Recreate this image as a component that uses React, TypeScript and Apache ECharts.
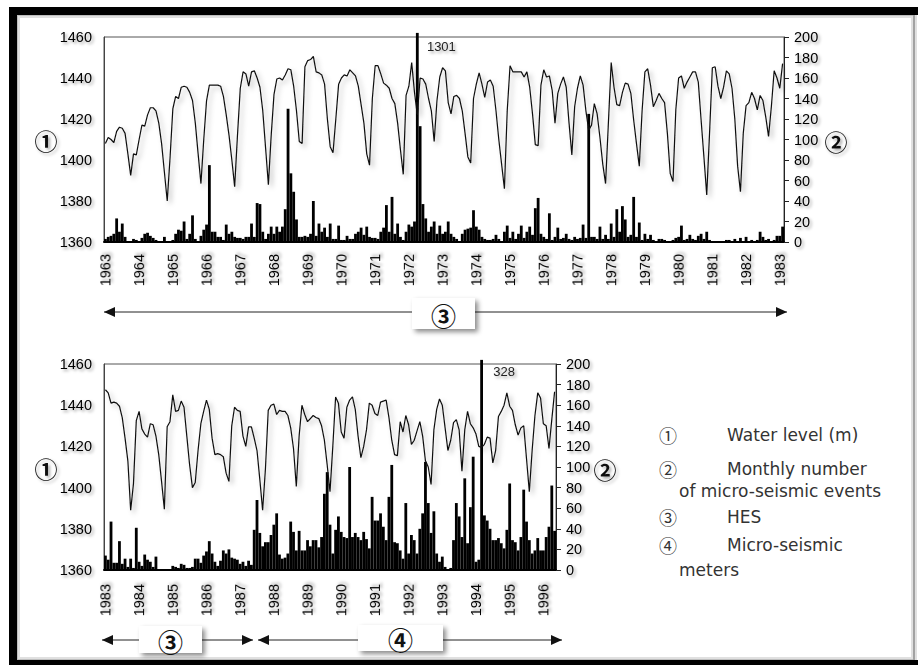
import React, { useEffect, useRef } from "react";
import * as echarts from "echarts";

// ---------- DATA ----------
// Upper panel: monthly values, Jan 1963 .. Feb 1983
const topLevel = [
  1408, 1411, 1410, 1408.5, 1414, 1416, 1415.5, 1413, 1403, 1392.5, 1403, 1402.5,
  1410, 1417, 1416.5, 1422, 1425.5, 1425.5, 1424, 1418, 1408, 1394, 1380, 1401,
  1425, 1431, 1430, 1435.5, 1436, 1435.5, 1433, 1429, 1418, 1403, 1388.5, 1410,
  1429, 1436.5, 1436.5, 1436.5, 1436.5, 1436, 1431, 1422, 1412, 1400, 1387, 1412,
  1435, 1443, 1442, 1436, 1443, 1443.5, 1440, 1435.5, 1424, 1406, 1388, 1412,
  1432, 1439.5, 1440, 1439, 1441.5, 1444.5, 1444, 1436, 1424, 1409, 1408, 1445.5,
  1448.5, 1449, 1450.5, 1443, 1442.5, 1441.5, 1437, 1420, 1406.5, 1403.5, 1420, 1437,
  1440, 1441.5, 1441, 1444, 1442.5, 1441, 1436, 1427, 1418, 1403, 1397.5, 1430,
  1446, 1446, 1442, 1437.5, 1436.5, 1435, 1430, 1427.5, 1418, 1405, 1393, 1431.5,
  1436, 1447.5, 1433, 1422, 1440, 1439.5, 1437, 1430, 1424, 1409, 1429, 1440.5,
  1445, 1443.5, 1428, 1422.5, 1431, 1431.5, 1430, 1424, 1413, 1401.5, 1398.5, 1430,
  1437, 1442.5, 1437, 1430.5, 1438, 1439, 1436, 1424, 1410, 1398, 1386, 1424,
  1446, 1443, 1443, 1443, 1443, 1440.5, 1443, 1435.5, 1422.5, 1407.5, 1407, 1436.5,
  1444, 1440.5, 1441, 1434, 1418, 1432.5, 1437, 1440.5, 1435.5, 1418, 1402.5, 1426,
  1435, 1441, 1436.5, 1424, 1414.5, 1417, 1427.5, 1422.5, 1411, 1398, 1388.5, 1418,
  1447.5, 1435.5, 1427, 1426.5, 1433, 1437.5, 1437, 1432.5, 1419.5, 1408, 1397, 1424,
  1443, 1444.5, 1436.5, 1426, 1429, 1432.5, 1430, 1428, 1413, 1393.5, 1389.5, 1424.5,
  1440, 1441, 1435, 1438, 1440.5, 1443, 1443, 1438, 1419.5, 1401.5, 1383, 1413,
  1445, 1445.5, 1436, 1430, 1435.5, 1443.5, 1442, 1435, 1420, 1397, 1384.5, 1413,
  1426.5, 1428, 1433, 1430, 1424.5, 1431.5, 1429, 1421, 1411.5, 1426, 1443.5, 1440,
  1435, 1447,
];
const topEvents = [
  3, 5, 6, 8, 23, 10, 18, 5, 1, 0, 3, 2,
  1, 4, 8, 9, 6, 4, 2, 1, 0, 5, 0, 1,
  2, 8, 12, 11, 20, 3, 8, 26, 3, 0, 6, 12,
  17, 75, 10, 10, 5, 5, 2, 17, 8, 10, 5, 4,
  4, 3, 5, 5, 18, 5, 38, 37, 10, 3, 8, 15,
  8, 15, 10, 15, 32, 130, 67, 49, 22, 5, 5, 6,
  5, 8, 40, 6, 18, 10, 14, 5, 18, 3, 3, 16,
  2, 2, 6, 3, 3, 8, 10, 14, 7, 15, 5, 4,
  4, 3, 10, 14, 36, 10, 44, 8, 18, 5, 2, 10,
  17, 15, 20, 1301, 113, 37, 23, 10, 15, 20, 8, 16,
  8, 10, 20, 8, 5, 3, 1, 8, 12, 13, 14, 31,
  15, 12, 5, 3, 2, 2, 3, 7, 3, 0, 10, 16,
  4, 10, 3, 8, 16, 4, 10, 15, 7, 33, 43, 8,
  5, 3, 28, 2, 5, 14, 3, 4, 8, 3, 2, 5,
  3, 4, 17, 4, 125, 5, 5, 3, 15, 3, 7, 3,
  18, 5, 32, 10, 35, 22, 5, 7, 44, 5, 19, 2,
  8, 3, 7, 2, 1, 3, 3, 2, 0, 1, 2, 4,
  5, 16, 2, 3, 7, 3, 2, 6, 8, 3, 10, 2,
  1, 1, 0, 1, 0, 2, 2, 1, 3, 0, 4, 1,
  5, 1, 2, 1, 2, 10, 5, 2, 3, 1, 2, 6,
  6, 15,
];
// Lower panel: monthly values, Jan 1983 .. May 1996
const bottomLevel = [
  1447.5, 1446, 1441, 1441.5, 1441, 1439.5, 1434, 1424, 1413, 1389, 1402, 1432.5,
  1437, 1428.5, 1426, 1424.5, 1431, 1430.5, 1425, 1416, 1403, 1389.5, 1429.5, 1432,
  1445, 1437, 1437.5, 1442, 1439, 1425, 1411, 1400, 1402.5, 1418, 1431, 1437,
  1442.5, 1438, 1424, 1416, 1416.5, 1416, 1415, 1407, 1403, 1430, 1439, 1437.5,
  1437, 1425, 1420, 1429.5, 1429.5, 1424, 1418, 1404, 1389, 1409, 1437.5, 1440,
  1440.5, 1435.5, 1437.5, 1437, 1437, 1435, 1429, 1419, 1400.5, 1425, 1440, 1435.5,
  1432, 1433.5, 1435, 1434, 1433.5, 1430, 1423, 1411, 1398, 1420, 1444, 1441,
  1427, 1424, 1439, 1442.5, 1444, 1438, 1425, 1414.5, 1420, 1428, 1441, 1440,
  1436, 1435, 1441.5, 1442, 1442.5, 1434, 1423, 1416, 1415.5, 1432, 1427, 1435,
  1430.5, 1421, 1423, 1427.5, 1432, 1425, 1413, 1410, 1401.5, 1428, 1438, 1443,
  1440, 1429, 1418, 1423, 1431.5, 1433, 1428, 1408, 1428, 1437, 1431, 1429,
  1426, 1420, 1419.5, 1421, 1424.5, 1424, 1412, 1418, 1434.5, 1437, 1440, 1446,
  1439.5, 1437.5, 1430.5, 1425.5, 1429, 1430, 1414, 1398, 1418, 1435, 1446, 1443.5,
  1431, 1430, 1419, 1433, 1446.5,
];
const bottomEvents = [
  14, 10, 47, 7, 7, 28, 6, 11, 3, 11, 2, 41,
  8, 4, 15, 10, 8, 3, 13, 0, 0, 0, 0, 0,
  4, 3, 2, 6, 5, 2, 2, 3, 11, 11, 7, 14,
  18, 28, 16, 8, 4, 9, 19, 16, 20, 12, 11, 10,
  6, 8, 4, 9, 5, 39, 68, 36, 23, 27, 27, 34,
  44, 55, 15, 11, 12, 16, 47, 37, 19, 38, 19, 19,
  29, 23, 29, 29, 22, 32, 74, 95, 44, 16, 39, 52,
  37, 32, 31, 100, 32, 36, 32, 29, 37, 30, 21, 71,
  48, 48, 55, 42, 29, 71, 102, 27, 26, 19, 11, 65,
  16, 34, 29, 16, 40, 55, 105, 65, 36, 57, 16, 8,
  13, 3, 1, 2, 29, 65, 52, 32, 89, 26, 61, 110,
  8, 10, 328, 53, 48, 40, 29, 29, 31, 26, 21, 39,
  84, 29, 27, 19, 32, 78, 47, 29, 16, 19, 31, 19,
  19, 32, 42, 82, 38,
];
const topStartYear = 1963;
const bottomStartYear = 1983;
const levelRange = [1360, 1460, 20];
const eventsRange = [0, 200, 20];
const legendItems = [
  ["①", "Water level (m)"],
  ["②", "Monthly number", "of micro-seismic events"],
  ["③", "HES"],
  ["④", "Micro-seismic", "meters"],
];

const monthCats = (start: number, n: number) =>
  Array.from({ length: n }, (_, i) => `${start + Math.floor(i / 12)}-${(i % 12) + 1}`);

const AXIS_FONT = "Liberation Sans, Arial, sans-serif";
const CJK = "Noto Sans CJK JP";
const textShadow = {
  textShadowColor: "rgba(0,0,0,0.35)",
  textShadowBlur: 3,
  textShadowOffsetX: 2,
  textShadowOffsetY: 2,
};

function buildPanel(idx: number, start: number, levels: number[], events: number[], yearMargin: number, capTop: number, labelPos: number[]) {
  const cats = monthCats(start, levels.length);
  const xAxis = {
    type: "category",
    gridIndex: idx,
    data: cats,
    boundaryGap: true,
    axisTick: { show: false },
    axisLine: { show: true, lineStyle: { color: "#000", width: 2 } },
    axisLabel: {
      interval: (i: number) => i % 12 === 0,
      formatter: (v: string) => v.split("-")[0],
      rotate: 90,
      margin: yearMargin,
      fontSize: 14.5,
      fontFamily: AXIS_FONT,
      color: "#000",
      ...textShadow,
    },
    splitLine: { show: false },
  };
  const yLeft = {
    type: "value",
    gridIndex: idx,
    position: "left",
    min: levelRange[0],
    max: levelRange[1],
    interval: levelRange[2],
    axisLine: { show: true, lineStyle: { color: "#444", width: 1 } },
    axisTick: { show: false },
    splitLine: { show: false },
    axisLabel: { fontSize: 14.5, fontFamily: AXIS_FONT, color: "#000", margin: 12, formatter: (v: number) => String(v), ...textShadow },
  };
  const yRight = {
    type: "value",
    gridIndex: idx,
    position: "right",
    min: eventsRange[0],
    max: eventsRange[1],
    interval: eventsRange[2],
    axisLine: { show: true, lineStyle: { color: "#222", width: 1 } },
    axisTick: { show: true, inside: false, length: 5, lineStyle: { color: "#222" } },
    splitLine: { show: false },
    axisLabel: { fontSize: 14.5, fontFamily: AXIS_FONT, color: "#000", margin: 10, formatter: (v: number) => String(v), ...textShadow },
  };
  const barData = events.map((v) =>
    v > eventsRange[1]
      ? {
          value: capTop,
          label: {
            show: true,
            position: labelPos,
            formatter: String(v),
            fontSize: 13,
            fontFamily: AXIS_FONT,
            color: "#222",
            ...textShadow,
          },
        }
      : v
  );
  const series = [
    {
      type: "bar",
      xAxisIndex: idx,
      yAxisIndex: idx * 2 + 1,
      data: barData,
      barCategoryGap: "0%",
      clip: false,
      itemStyle: { color: "#000" },
      silent: true,
    },
    {
      type: "line",
      xAxisIndex: idx,
      yAxisIndex: idx * 2,
      data: levels,
      symbol: "none",
      lineStyle: {
        color: "#111",
        width: 1.2,
        shadowColor: "rgba(0,0,0,0.3)",
        shadowBlur: 5,
        shadowOffsetX: 3,
        shadowOffsetY: 3,
      },
      silent: true,
    },
  ];
  return { xAxis, yAxes: [yLeft, yRight], series };
}

function arrowH(x1: number, x2: number, y: number, leftHead: boolean, rightHead: boolean) {
  const els: any[] = [
    { type: "line", shape: { x1, y1: y, x2, y2: y }, style: { stroke: "#222", lineWidth: 1 } },
  ];
  if (leftHead)
    els.push({ type: "polygon", shape: { points: [[x1, y], [x1 + 11, y - 5], [x1 + 11, y + 5]] }, style: { fill: "#111" } });
  if (rightHead)
    els.push({ type: "polygon", shape: { points: [[x2, y], [x2 - 11, y - 5], [x2 - 11, y + 5]] }, style: { fill: "#111" } });
  return els;
}

function labelBox(x: number, y: number, w: number, h: number, txt: string) {
  return [
    {
      type: "rect",
      shape: { x, y, width: w, height: h },
      style: { fill: "#fff", shadowColor: "rgba(0,0,0,0.45)", shadowBlur: 5, shadowOffsetX: 3, shadowOffsetY: 3 },
    },
    {
      type: "text",
      style: { text: txt, x: x + w / 2, y: y + h / 2 + 1, align: "center", verticalAlign: "middle", fontSize: 25, fontWeight: "bold", fontFamily: CJK, fill: "#111" },
    },
  ];
}

function circled(txt: string, x: number, y: number, size: number, color = "#111") {
  return {
    type: "text",
    style: { text: txt, x, y, align: "center", verticalAlign: "middle", fontSize: size, fontWeight: "bold", fontFamily: CJK, fill: color, ...textShadow },
  };
}

export default function App() {
  const ref = useRef<HTMLDivElement>(null);
  useEffect(() => {
    if (!ref.current) return;
    const chart = echarts.init(ref.current, undefined, { renderer: "svg" });
    const top = buildPanel(0, topStartYear, topLevel, topEvents, 12, 204, [11, 7]);
    const bot = buildPanel(1, bottomStartYear, bottomLevel, bottomEvents, 14, 204, [13, 5]);

    const legendY = [435, 469, 517, 545];
    const legendGraphics: any[] = [];
    legendItems.forEach((it, i) => {
      legendGraphics.push({
        type: "text",
        style: { text: it[0], x: 668, y: legendY[i], align: "center", verticalAlign: "middle", fontSize: 18, fontFamily: CJK, fill: "#333" },
      });
      legendGraphics.push({
        type: "text",
        style: { text: it[1], x: 727, y: legendY[i], align: "left", verticalAlign: "middle", fontSize: 17, fontFamily: "DejaVu Sans", fill: "#333" },
      });
      if (it[2])
        legendGraphics.push({
          type: "text",
          style: { text: it[2], x: 679, y: legendY[i] + (i === 1 ? 22 : 25), align: "left", verticalAlign: "middle", fontSize: 17, fontFamily: "DejaVu Sans", fill: "#333" },
        });
    });

    const frame: any[] = [
      { type: "rect", shape: { x: 17, y: 15, width: 897, height: 645 }, style: { fill: "none", stroke: "rgba(0,0,0,0.12)", lineWidth: 6 } },
      { type: "rect", shape: { x: 17, y: 15, width: 897, height: 645 }, style: { fill: "none", stroke: "rgba(0,0,0,0.15)", lineWidth: 2 } },
      { type: "rect", shape: { x: 9, y: 7, width: 909, height: 8 }, style: { fill: "#000" } },
      { type: "rect", shape: { x: 9, y: 7, width: 8, height: 658 }, style: { fill: "#000" } },
      { type: "rect", shape: { x: 9, y: 660, width: 909, height: 5 }, style: { fill: "#000" } },
      { type: "line", shape: { x1: 914, y1: 15, x2: 914, y2: 660 }, style: { stroke: "#999", lineWidth: 1.5 } },
    ];

    chart.setOption({
      animation: false,
      backgroundColor: "#fff",
      grid: [
        { left: 104, top: 37, width: 680, height: 205, show: true, borderColor: "#555", borderWidth: 1, backgroundColor: "transparent" },
        { left: 104, top: 364, width: 452, height: 206, show: true, borderColor: "#555", borderWidth: 1, backgroundColor: "transparent" },
      ],
      xAxis: [top.xAxis, bot.xAxis],
      yAxis: [...top.yAxes, ...bot.yAxes],
      series: [...top.series, ...bot.series],
      graphic: [
        ...frame,
        circled("①", 46, 140, 23),
        circled("②", 836, 141, 23),
        circled("①", 46, 468, 23),
        circled("②", 605, 469, 23),
        ...arrowH(104, 787, 312, true, true),
        ...labelBox(412, 298, 63, 31, "③"),
        ...arrowH(102, 253, 640, true, true),
        ...labelBox(139, 626, 63, 27, "③"),
        ...arrowH(258, 562, 640, true, true),
        ...labelBox(358, 625, 85, 26, "④"),
        ...legendGraphics,
      ],
    });
    return () => chart.dispose();
  }, []);
  return <div ref={ref} style={{ position: "fixed", left: 0, top: 0, width: 918, height: 665 }} />;
}
